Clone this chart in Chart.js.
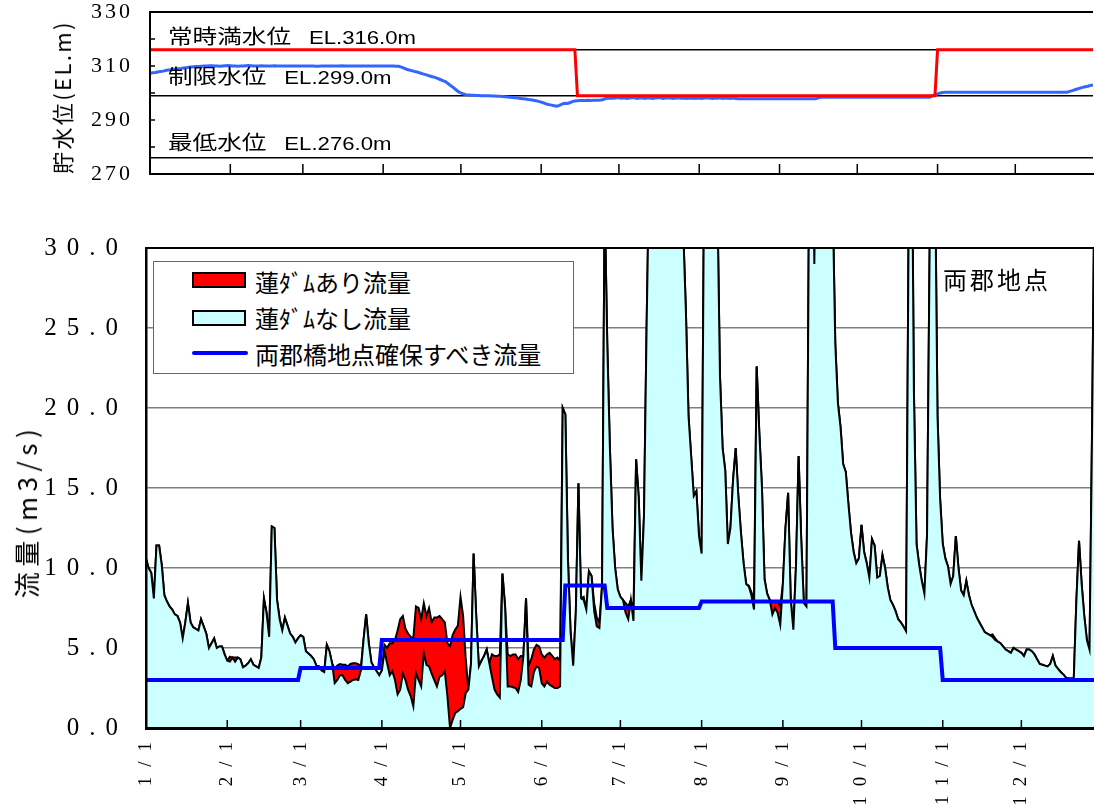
<!DOCTYPE html>
<html lang="ja">
<head>
<meta charset="utf-8">
<title>両郡地点 流量</title>
<script src="https://cdn.jsdelivr.net/npm/chart.js@4.4.1/dist/chart.umd.min.js"></script>
<style>
  html, body { margin: 0; padding: 0; background: #fff; overflow: hidden; }
  #wrap { position: relative; width: 1094px; height: 807px; overflow: hidden; }
  canvas { position: absolute; left: 0; }
  #levelChart { top: 0; }
  #flowChart { top: 200px; }
  .note { position: absolute; left: 168px; font: 20px 'Noto Sans CJK JP'; line-height: 1; white-space: nowrap;
          transform: translateY(-50%) scaleX(1.23); transform-origin: 0 50%; color: #000; }
  .note span { font: 18px 'Liberation Sans'; margin-left: 14.6px; }
  .axisTitle { position: absolute; white-space: nowrap; line-height: 1; font-family: 'Noto Sans CJK JP'; color: #000;
               transform: translate(-50%, -50%) rotate(-90deg); }
  #legend { position: absolute; left: 153px; top: 261px; width: 421px; height: 113px; box-sizing: border-box;
            border: 1px solid #666; background: #fff; }
  .sw { position: absolute; left: 38px; width: 54px; height: 16px; box-sizing: border-box; border: 2px solid #000; }
  .ln { position: absolute; left: 38px; width: 56px; height: 4px; border-radius: 2px; background: #0000ff; }
  .lt { position: absolute; left: 101px; font: 24px 'Noto Sans CJK JP'; line-height: 1; white-space: nowrap;
        transform: translateY(-50%); color: #000; }
  #site { position: absolute; left: 943px; top: 279px; font: 24px 'Noto Sans CJK JP'; letter-spacing: 3px;
          line-height: 1; transform: translateY(-50%); white-space: nowrap; }
</style>
</head>
<body>
<div id="wrap">
  <canvas id="levelChart" width="1094" height="200"></canvas>
  <canvas id="flowChart" width="1102" height="607"></canvas>

  <div class="note" style="top:37px">常時満水位<span>EL.316.0m</span></div>
  <div class="note" style="top:77px">制限水位<span>EL.299.0m</span></div>
  <div class="note" style="top:143px">最低水位<span>EL.276.0m</span></div>

  <div class="axisTitle" style="left:61px;top:97px;font-size:22px;letter-spacing:2.4px">貯水位(EL.m)</div>
  <div class="axisTitle" style="left:26px;top:511px;font-size:26px;letter-spacing:5.5px">流量(m3/s)</div>

  <div id="legend">
    <div class="sw" style="top:10px;background:#ff0000"></div>
    <div class="lt" style="top:20px">蓮ﾀﾞﾑあり流量</div>
    <div class="sw" style="top:48px;background:#ccffff"></div>
    <div class="lt" style="top:56px">蓮ﾀﾞﾑなし流量</div>
    <div class="ln" style="top:89px"></div>
    <div class="lt" style="top:92px">両郡橋地点確保すべき流量</div>
  </div>
  <div id="site">両郡地点</div>
</div>

<script>
// month ticks (day of year)
const monthStarts = [0, 31, 59, 90, 120, 151, 181, 212, 243, 273, 304, 334]
const monthLabels = ['1/1', '2/1', '3/1', '4/1', '5/1', '6/1', '7/1', '8/1', '9/1', '10/1', '11/1', '12/1']

// 貯水位 (EL.m), daily
const reservoirLevel = [
  307.3, 307.5, 307.6, 307.8, 308.0, 308.1, 308.3, 308.5, 308.6, 308.8, 308.9, 309.0, 309.1, 309.3, 309.4, 309.5,
  309.6, 309.7, 309.8, 309.8, 309.9, 310.0, 310.0, 310.1, 310.1, 310.0, 310.0, 309.9, 310.0, 310.1, 310.2,
  310.1, 310.0, 310.0, 309.9, 310.0, 310.0, 310.1, 310.2, 310.1, 310.0, 310.0, 310.0, 310.1, 310.0,
  310.0, 310.0, 310.0, 310.1, 310.0, 310.0, 310.0, 310.0, 310.0, 310.0, 310.0, 310.0, 310.0, 310.0,
  310.0, 310.0, 310.0, 310.0, 310.0, 309.9, 309.9, 310.0, 310.0, 310.0, 310.0, 310.0, 310.0, 310.0, 310.0, 310.1,
  310.0, 310.0, 310.0, 310.0, 310.0, 310.0, 310.0, 310.0, 310.0, 310.0, 310.0, 310.0, 310.0, 310.0, 310.0,
  310.0, 310.0, 310.0, 310.0, 310.0, 309.9, 309.9, 309.6, 309.2, 308.8, 308.5, 308.3, 308.0, 307.8, 307.5,
  307.2, 306.9, 306.6, 306.3, 306.0, 305.8, 305.4, 305.0, 304.6, 304.2, 303.5, 302.8, 302.1, 301.3, 300.5,
  300.0, 299.6, 299.4, 299.3, 299.2, 299.2, 299.1, 299.1, 299.0, 299.0, 299.0, 299.0, 298.9, 298.9, 298.8, 298.8,
  298.7, 298.6, 298.5, 298.4, 298.3, 298.2, 298.1, 298.0, 297.9, 297.8, 297.6, 297.5, 297.3, 297.1, 296.9,
  296.6, 296.3, 295.9, 295.7, 295.5, 295.3, 295.1, 295.4, 295.9, 296.2, 296.1, 296.4, 296.8, 297.0, 297.1,
  297.2, 297.2, 297.2, 297.3, 297.2, 297.3, 297.3, 297.3, 297.4, 297.6, 298.0, 298.1, 298.1, 298.1, 298.2,
  298.2, 298.1, 298.2, 298.0, 298.1, 298.2, 298.2, 298.0, 298.1, 298.2, 298.0, 298.2, 298.1, 298.0, 298.1, 298.2,
  298.2, 298.0, 298.1, 298.2, 298.1, 298.0, 298.1, 298.2, 298.1, 298.1, 298.0, 298.1, 298.1, 298.0, 298.1,
  298.1, 298.0, 298.1, 298.2, 298.1, 298.0, 298.1, 298.1, 298.2, 298.0, 298.1, 298.1, 298.0, 298.1, 298.0,
  297.9, 297.9, 297.9, 297.9, 297.9, 297.9, 297.9, 297.9, 297.9, 297.9, 297.9, 297.9, 297.9, 297.9, 297.9, 297.9,
  297.9, 297.9, 297.9, 297.9, 297.9, 297.9, 297.9, 297.9, 297.9, 297.9, 297.9, 297.9, 297.9, 297.9, 297.9,
  298.2, 298.4, 298.4, 298.4, 298.4, 298.4, 298.4, 298.4, 298.4, 298.4, 298.4, 298.4, 298.4, 298.4, 298.4,
  298.4, 298.4, 298.4, 298.4, 298.4, 298.4, 298.4, 298.4, 298.4, 298.4, 298.4, 298.4, 298.4, 298.4, 298.4, 298.4,
  298.4, 298.4, 298.4, 298.4, 298.4, 298.4, 298.4, 298.4, 298.4, 298.4, 298.4, 298.4, 298.4, 298.9, 299.3,
  299.7, 300.0, 300.2, 300.3, 300.3, 300.3, 300.3, 300.3, 300.3, 300.3, 300.3, 300.3, 300.3, 300.3, 300.3,
  300.3, 300.3, 300.3, 300.3, 300.3, 300.3, 300.3, 300.3, 300.3, 300.3, 300.3, 300.3, 300.3, 300.3, 300.3,
  300.3, 300.3, 300.3, 300.3, 300.3, 300.3, 300.3, 300.3, 300.3, 300.3, 300.3, 300.3, 300.3, 300.3, 300.3, 300.3,
  300.3, 300.3, 300.3, 300.3, 300.3, 300.6, 300.9, 301.2, 301.5, 301.8, 302.1, 302.3, 302.5, 302.8, 303.0
]

// 常時満水位 / 制限水位 schedule (day, EL.m)
const targetDays = [0, 164, 165, 303, 304, 364]
const targetLevel = [316, 316, 299, 299, 316, 316]

const normalFull = 316
const limitLevel = 299
const lowLevel = 276

// 蓮ダムなし流量 (m3/s), daily
const noDamFlow = [
  10.6, 10.0, 9.7, 8.1, 11.4, 11.4, 10.2, 8.3, 7.9, 7.6, 7.4, 7.1, 7.0, 6.6, 5.6, 6.6,
  7.8, 6.6, 6.3, 6.2, 6.1, 6.8, 6.35, 5.9, 5.0, 5.3, 5.6, 5.0, 5.1, 5.1, 4.6,
  4.2, 4.15, 4.4, 4.15, 4.4, 4.3, 3.8, 3.9, 4.05, 4.3, 3.95, 3.85, 3.75, 4.4,
  8.1, 7.2, 5.7, 12.6, 12.5, 8.0, 6.8, 6.1, 6.9, 6.4, 5.9, 5.7, 5.35, 5.6,
  5.8, 5.7, 4.8, 4.65, 4.5, 4.3, 3.9, 3.85, 3.6, 3.5, 5.2, 4.8, 4.05, 2.8, 3.0, 3.3,
  3.3, 3.0, 2.8, 2.9, 3.0, 3.05, 3.0, 3.6, 5.5, 7.1, 5.3, 4.1, 3.8, 3.55, 3.3,
  3.6, 4.8, 4.05, 3.3, 3.55, 3.0, 2.1, 2.4, 3.4, 3.0, 2.4, 2.0, 1.35, 3.45, 3.0,
  2.6, 4.7, 3.95, 3.85, 3.4, 3.0, 2.6, 3.2, 3.3, 3.55, 2.0, 0.0, 0.5, 0.95, 1.05,
  1.2, 1.3, 2.2, 2.4, 4.0, 10.9, 7.0, 3.85, 4.2, 4.5, 4.9, 4.05, 3.2, 2.4, 2.1, 1.9,
  9.65, 7.6, 2.6, 2.6, 2.55, 2.5, 2.25, 3.0, 4.5, 8.1, 2.7, 2.6, 3.5, 3.85, 3.75,
  2.8, 2.6, 2.9, 2.7, 2.6, 2.5, 2.5, 2.6, 20.0, 19.6, 10.5, 6.0, 3.9, 7.2, 15.3,
  8.1, 8.0, 7.4, 9.8, 9.5, 7.3, 6.35, 6.25, 8.85, 33, 24, 17.5, 12.5, 10.0, 8.65,
  8.2, 8.0, 7.2, 6.8, 8.0, 6.7, 16.8, 14.4, 9.2, 13.2, 25, 35, 48, 62, 55, 70,
  58, 45, 52, 66, 48, 40, 36, 33, 31, 26, 19.5, 17.0, 14.5, 14.8, 12.0,
  10.9, 36, 52, 60, 45, 38, 33, 22, 17.5, 16.1, 11.5, 12.5, 15.5, 17.5, 14.5, 12.2,
  10.3, 9.0, 8.85, 8.3, 7.4, 22.6, 18.5, 15.1, 9.3, 8.4, 8.0, 7.1, 7.5, 7.2, 6.45,
  9.0, 12.5, 14.7, 8.0, 6.15, 10.1, 17.0, 11.8, 7.8, 7.6, 34, 45, 29, 42, 58,
  65, 52, 44, 38, 33, 24, 20.3, 18.8, 16.5, 16.0, 14.0, 12.2, 11.0, 10.3, 10.6,
  12.7, 11.0, 10.3, 9.4, 11.8, 11.4, 9.4, 9.5, 10.8, 10.0, 8.8, 8.0, 7.7, 7.3, 6.8, 6.6,
  6.35, 6.05, 32, 42, 21, 11.5, 10.2, 9.2, 8.4, 12.0, 30, 48, 36, 19.5, 14.3,
  11.5, 10.6, 10.1, 9.0, 9.5, 12.0, 10.0, 8.6, 8.3, 9.2, 8.3, 7.7, 7.3, 6.9, 6.6,
  6.3, 6.0, 5.9, 5.8, 5.7, 5.5, 5.4, 5.3, 5.1, 4.9, 4.8, 4.7, 5.0, 4.9, 4.8,
  4.7, 4.5, 4.9, 4.9, 4.8, 4.6, 4.3, 4.0, 3.95, 3.9, 3.85, 4.0, 4.5, 3.9, 3.7, 3.5,
  3.35, 3.15, 3.1, 3.1, 3.1, 8.0, 11.7, 9.0, 7.0, 5.5, 4.9, 19, 36, 30, 22
]

// 蓮ダムあり流量 (m3/s), daily
const withDamFlow = [
  10.6, 10.0, 9.7, 8.1, 11.4, 11.4, 10.2, 8.3, 7.9, 7.6, 7.4, 7.1, 7.0, 6.6, 5.6, 6.6,
  7.8, 6.6, 6.3, 6.2, 6.1, 6.8, 6.35, 5.9, 5.0, 5.3, 5.6, 5.0, 5.1, 5.1, 4.6,
  4.2, 4.45, 4.4, 4.4, 4.4, 4.3, 3.8, 3.9, 4.05, 4.3, 3.95, 3.85, 3.75, 4.4,
  8.1, 7.2, 5.7, 12.6, 12.5, 8.0, 6.8, 6.1, 6.9, 6.4, 5.9, 5.7, 5.35, 5.6,
  5.8, 5.7, 4.8, 4.65, 4.5, 4.3, 3.9, 3.85, 3.6, 3.5, 5.2, 4.8, 4.05, 3.7, 3.9, 4.0,
  3.95, 3.95, 3.85, 4.0, 4.05, 4.05, 4.0, 3.8, 5.5, 7.1, 5.3, 4.1, 3.8, 3.55, 3.3,
  3.6, 5.2, 5.0, 5.3, 5.3, 5.5, 6.1, 6.8, 7.0, 6.2, 5.9, 5.7, 5.6, 7.6, 7.5,
  6.8, 7.8, 7.0, 7.5, 6.6, 6.9, 6.9, 7.0, 6.8, 6.6, 5.3, 5.1, 5.8, 6.15, 6.4,
  8.2, 7.0, 4.3, 2.4, 4.0, 10.9, 7.0, 3.85, 4.2, 4.5, 4.9, 4.05, 4.6, 4.5, 4.5, 4.6,
  9.65, 7.6, 4.6, 4.5, 4.6, 4.6, 4.3, 4.5, 4.5, 8.1, 3.9, 4.3, 4.9, 5.2, 5.1,
  4.6, 4.4, 4.6, 4.7, 4.5, 4.3, 4.4, 4.2, 20.0, 19.6, 10.5, 6.0, 3.9, 7.2, 15.3,
  8.1, 8.2, 7.4, 9.8, 9.5, 7.8, 6.9, 6.6, 8.85, 33, 24, 17.5, 12.5, 10.0, 8.65,
  8.2, 8.0, 7.8, 7.6, 8.0, 7.3, 16.8, 14.4, 9.2, 13.2, 25, 35, 48, 62, 55, 70,
  58, 45, 52, 66, 48, 40, 36, 33, 31, 26, 19.5, 17.0, 14.5, 14.8, 12.0,
  10.9, 36, 52, 60, 45, 38, 33, 22, 17.5, 16.1, 11.5, 12.5, 15.5, 17.5, 14.5, 12.2,
  10.3, 9.0, 8.9, 8.5, 8.0, 22.6, 18.5, 15.1, 9.3, 8.4, 8.0, 7.9, 7.9, 7.9, 7.6,
  9.0, 12.5, 14.7, 8.0, 6.15, 10.1, 17.0, 11.8, 7.8, 7.6, 34, 45, 29, 42, 58,
  65, 52, 44, 38, 33, 24, 20.3, 18.8, 16.5, 16.0, 14.0, 12.2, 11.0, 10.3, 10.6,
  12.7, 11.0, 10.3, 9.4, 11.8, 11.4, 9.4, 9.5, 10.8, 10.0, 8.8, 8.0, 7.7, 7.3, 6.8, 6.6,
  6.35, 6.05, 32, 42, 21, 11.5, 10.2, 9.2, 8.4, 12.0, 30, 48, 36, 19.5, 14.3,
  11.5, 10.6, 10.1, 9.0, 9.5, 12.0, 10.0, 8.6, 8.3, 9.2, 8.3, 7.7, 7.3, 6.9, 6.6,
  6.3, 6.0, 5.9, 5.8, 5.85, 5.6, 5.4, 5.3, 5.1, 4.9, 4.8, 4.7, 5.0, 4.9, 4.8,
  4.7, 4.5, 4.9, 4.9, 4.8, 4.6, 4.3, 4.0, 3.95, 3.9, 3.85, 4.0, 4.5, 3.9, 3.7, 3.5,
  3.35, 3.15, 3.1, 3.1, 3.1, 8.0, 11.7, 9.0, 7.0, 5.5, 4.9, 19, 36, 30, 22
]

// 両郡橋地点確保すべき流量, breakpoints (day, m3/s)
const requiredDays = [0, 58, 59, 89, 90, 159, 160, 175, 176, 211, 212, 262, 263, 303, 304, 364]
const requiredFlow = [3.0, 3.0, 3.75, 3.75, 5.5, 5.5, 8.9, 8.9, 7.5, 7.5, 7.9, 7.9, 5.0, 5.0, 3.0, 3.0]

const days = reservoirLevel.map((v, i) => i)
const points = (xs, ys) => xs.map((x, i) => ({ x: x, y: ys[i] }))
const flat = (v) => [{ x: 0, y: v }, { x: 364, y: v }]

// top border, inward tick marks, canvas letter spacing
const frame = {
    id: 'frame',
    beforeDraw(chart, args, opts) {
        chart.ctx.letterSpacing = opts.spacing
    },
    afterDraw(chart, args, opts) {
        const { ctx, chartArea: a, scales } = chart
        ctx.save()
        ctx.strokeStyle = '#000'
        ctx.lineWidth = 2
        ctx.beginPath()
        ctx.moveTo(a.left, a.top)
        ctx.lineTo(a.right, a.top)
        ctx.stroke()
        ctx.lineWidth = 1.5
        ctx.beginPath()
        scales.x.ticks.forEach(t => {
            const px = scales.x.getPixelForValue(t.value)
            ctx.moveTo(px, a.bottom)
            ctx.lineTo(px, a.bottom - opts.xTick)
        })
        if (opts.yTick) {
            scales.y.ticks.forEach(t => {
                const py = scales.y.getPixelForValue(t.value)
                ctx.moveTo(a.left, py)
                ctx.lineTo(a.left + opts.yTick, py)
            })
        }
        ctx.stroke()
        ctx.restore()
    }
}

const monthTicks = (scale) => { scale.ticks = monthStarts.map(v => ({ value: v })) }

new Chart(document.getElementById('levelChart'), {
    type: 'line',
    plugins: [frame],
    data: {
        labels: days,
        datasets: [
            { label: '常時満水位', data: points(targetDays, targetLevel), borderColor: '#ff0000', borderWidth: 3, pointRadius: 0, order: 0 },
            { label: '貯水位', data: reservoirLevel, borderColor: '#3366ff', borderWidth: 3, pointRadius: 0, order: 1 },
            { label: 'EL.316.0m', data: flat(normalFull), borderColor: '#000', borderWidth: 1.5, pointRadius: 0, order: 2 },
            { label: 'EL.299.0m', data: flat(limitLevel), borderColor: '#000', borderWidth: 1.5, pointRadius: 0, order: 2 },
            { label: 'EL.276.0m', data: flat(lowLevel), borderColor: '#000', borderWidth: 1.5, pointRadius: 0, order: 2 }
        ]
    },
    options: {
        responsive: false,
        animation: false,
        devicePixelRatio: 1,
        events: [],
        layout: { padding: { top: 12, right: 1, left: 0, bottom: 0 } },
        plugins: {
            legend: { display: false },
            tooltip: { enabled: false },
            frame: { spacing: '3px', xTick: 10, yTick: 5 }
        },
        scales: {
            x: {
                type: 'linear', min: 0, max: 364,
                afterBuildTicks: monthTicks,
                afterFit: (s) => { s.height = 26 },
                grid: { display: false, drawTicks: false },
                border: { color: '#000', width: 2, z: 1 },
                ticks: { display: false }
            },
            y: {
                min: 270, max: 330,
                afterFit: (s) => { s.width = 150; s.paddingTop = 0; s.paddingBottom = 0 },
                grid: { display: false, drawTicks: false },
                border: { color: '#000', width: 2, z: 1 },
                ticks: {
                    stepSize: 5, padding: 17, color: '#000',
                    font: { family: "'Liberation Serif', serif", size: 22, lineHeight: 1 },
                    callback: (v) => (v - 270) % 20 === 0 ? v : ''
                }
            }
        }
    }
})

new Chart(document.getElementById('flowChart'), {
    type: 'line',
    plugins: [frame],
    data: {
        labels: days,
        datasets: [
            { label: '両郡橋地点確保すべき流量', data: points(requiredDays, requiredFlow), borderColor: '#0000ff', borderWidth: 4, pointRadius: 0, fill: false, order: 0 },
            { label: '蓮ﾀﾞﾑなし流量', data: noDamFlow, borderColor: '#000', borderWidth: 2, backgroundColor: '#ccffff', fill: 'origin', pointRadius: 0, order: 1 },
            { label: '蓮ﾀﾞﾑあり流量', data: withDamFlow, borderColor: '#000', borderWidth: 2, backgroundColor: '#ff0000', fill: 'origin', pointRadius: 0, order: 2 }
        ]
    },
    options: {
        responsive: false,
        animation: false,
        devicePixelRatio: 1,
        events: [],
        layout: { padding: { top: 48, right: 2, left: 0, bottom: 0 } },
        plugins: {
            legend: { display: false },
            tooltip: { enabled: false },
            frame: { spacing: '10px', xTick: 8, yTick: 0 }
        },
        scales: {
            x: {
                type: 'linear', min: 0, max: 364,
                afterBuildTicks: monthTicks,
                afterFit: (s) => { s.height = 79 },
                grid: { display: false, drawTicks: false },
                border: { color: '#000', width: 3, z: 1 },
                ticks: {
                    autoSkip: false, minRotation: 90, maxRotation: 90, padding: 4, color: '#000',
                    font: { family: "'Liberation Serif', serif", size: 19 },
                    callback: (v) => monthLabels[monthStarts.indexOf(v)]
                }
            },
            y: {
                min: 0, max: 30,
                afterFit: (s) => { s.width = 146; s.paddingTop = 0; s.paddingBottom = 0 },
                grid: { color: '#808080', lineWidth: 1.5, drawTicks: false },
                border: { color: '#000', width: 2.5, z: 1 },
                ticks: {
                    stepSize: 5, padding: 18, color: '#000',
                    font: { family: "'Liberation Serif', serif", size: 25, lineHeight: 1 },
                    callback: (v) => v.toFixed(1)
                }
            }
        }
    }
})
</script>
</body>
</html>
